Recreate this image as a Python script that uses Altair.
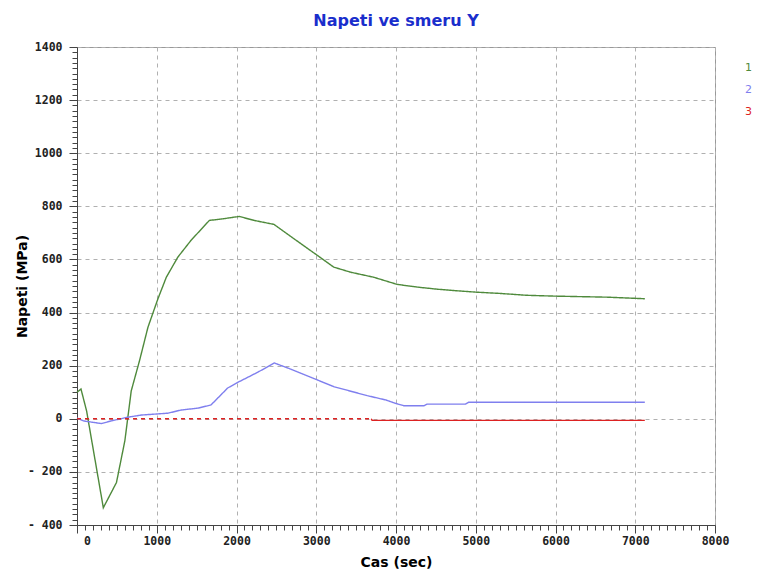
import altair as alt
import pandas as pd

# Series 1 (green)
t1 = [0, 50, 120, 330, 495, 600, 680, 785, 890, 1015, 1120, 1265, 1430, 1660, 1830,
      2035, 2220, 2470, 2720, 3015, 3220, 3430, 3720, 4015, 4265, 4515, 4765, 4994,
      5306, 5640, 5973, 6640, 7120]
v1 = [100, 112, 30, -335, -240, -83, 105, 220, 345, 452, 533, 609, 672, 747, 753,
      762, 747, 732, 678, 615, 571, 552, 533, 506, 496, 488, 482, 477,
      472, 465, 462, 458, 452]

# Series 2 (blue)
t2 = [0, 80, 305, 430, 620, 805, 995, 1140, 1305, 1515, 1680, 1890, 2015, 2265, 2475,
      2680, 3015, 3220, 3640, 3870, 3995, 4100, 4350, 4390, 4870, 4910, 7120]
v2 = [3, -8, -18, -8, 5, 14, 18, 21, 33, 40, 52, 116, 137, 175, 210,
      187, 146, 121, 87, 71, 58, 49, 49, 55, 55, 62, 62]

# Series 3 (red): first part lies on the zero line (drawn dashed), then slightly below
t3a = [0, 3690]
v3a = [0, 0]
t3b = [3690, 3700, 7120]
v3b = [0, -6, -6]

series = ["1", "2", "3"]
colors = ["#4f8a3c", "#7f7fee", "#dd2222"]

x_ticks = list(range(0, 8001, 100))
y_ticks = list(range(-400, 1401, 20))

rows = []
for s, seg, style, ts, vs in [("1", "1", "solid", t1, v1), ("2", "2", "solid", t2, v2),
                              ("3", "3a", "dash", t3a, v3a), ("3", "3b", "solid", t3b, v3b)]:
    for i, (a, b) in enumerate(zip(ts, vs)):
        rows.append({"series": s, "seg": seg, "style": style, "t": a, "v": b, "order": i})
df = pd.DataFrame(rows)
leg = pd.DataFrame({"series": series})

W, H = 638, 478

common_axis = dict(
    labelFont="DejaVu Sans Mono", labelFontWeight="bold", labelFontSize=11.5,
    labelColor="#222", titleFont="DejaVu Sans", titleFontWeight="bold",
    titleFontSize=14, titleColor="#000", domainColor="#444", tickColor="#444",
    gridColor="#b0b0b0", gridDash=[4, 4], gridWidth=1,
)

x_axis = alt.Axis(
    values=x_ticks, title="Cas (sec)", titleY=37, titleBaseline="middle",
    labelExpr="datum.value % 1000 === 0 ? format(datum.value, 'd') : ''",
    tickSize={"condition": {"test": "datum.value % 1000 === 0", "value": 8}, "value": 5},
    gridOpacity={"condition": {"test": "datum.value % 1000 === 0", "value": 1}, "value": 0},
    labelOffset={"condition": {"test": "datum.value === 0", "value": 10}, "value": 0},
    labelFlush=False, labelPadding=2, **common_axis,
)
y_axis = alt.Axis(
    values=y_ticks, title="Napeti  (MPa)", titleX=-55, titleY=H / 2,
    titleBaseline="middle",
    labelExpr="datum.value % 200 === 0 ? (datum.value < 0 ? '- ' + format(-datum.value, 'd') : format(datum.value, 'd')) : ''",
    tickSize={"condition": {"test": "datum.value % 200 === 0", "value": 8}, "value": 5},
    gridOpacity={"condition": {"test": "datum.value % 200 === 0", "value": 1}, "value": 0},
    labelFlush=False, labelPadding=7, **common_axis,
)

lines = alt.Chart(df).mark_line(strokeWidth=1.4).encode(
    x=alt.X("t:Q", scale=alt.Scale(domain=[0, 8000], nice=False, zero=False), axis=x_axis),
    y=alt.Y("v:Q", scale=alt.Scale(domain=[-400, 1400], nice=False, zero=False), axis=y_axis),
    color=alt.Color("series:N", scale=alt.Scale(domain=series, range=colors), legend=None),
    strokeDash=alt.StrokeDash("style:N", scale=alt.Scale(domain=["solid", "dash"],
                                                         range=[[1, 0], [4, 4]]), legend=None),
    detail="seg:N",
    order="order:Q",
)

legend_text = alt.Chart(leg).mark_text(
    font="DejaVu Sans", fontSize=11, align="left", baseline="middle"
).encode(
    x=alt.value(W + 30),
    y=alt.Y("series:N", axis=None,
            scale=alt.Scale(domain=series, range=[21, 65], padding=0)),
    text="series:N",
    color=alt.Color("series:N", scale=alt.Scale(domain=series, range=colors), legend=None),
)

chart = alt.layer(lines, legend_text).resolve_scale(y="independent").properties(
    width=W, height=H,
    autosize=alt.AutoSizeParams(type="none"),
    padding={"left": 69, "top": 39, "right": 40, "bottom": 45},
    background="white",
    title=alt.TitleParams("Napeti ve smeru Y", color="#1a2ecc", fontSize=16,
                          font="DejaVu Sans", fontWeight="bold", offset=12,
                          anchor="middle"),
).configure_view(stroke="#999", strokeWidth=1)

chart.save("out.html", embed_options={"renderer": "svg", "actions": False})
